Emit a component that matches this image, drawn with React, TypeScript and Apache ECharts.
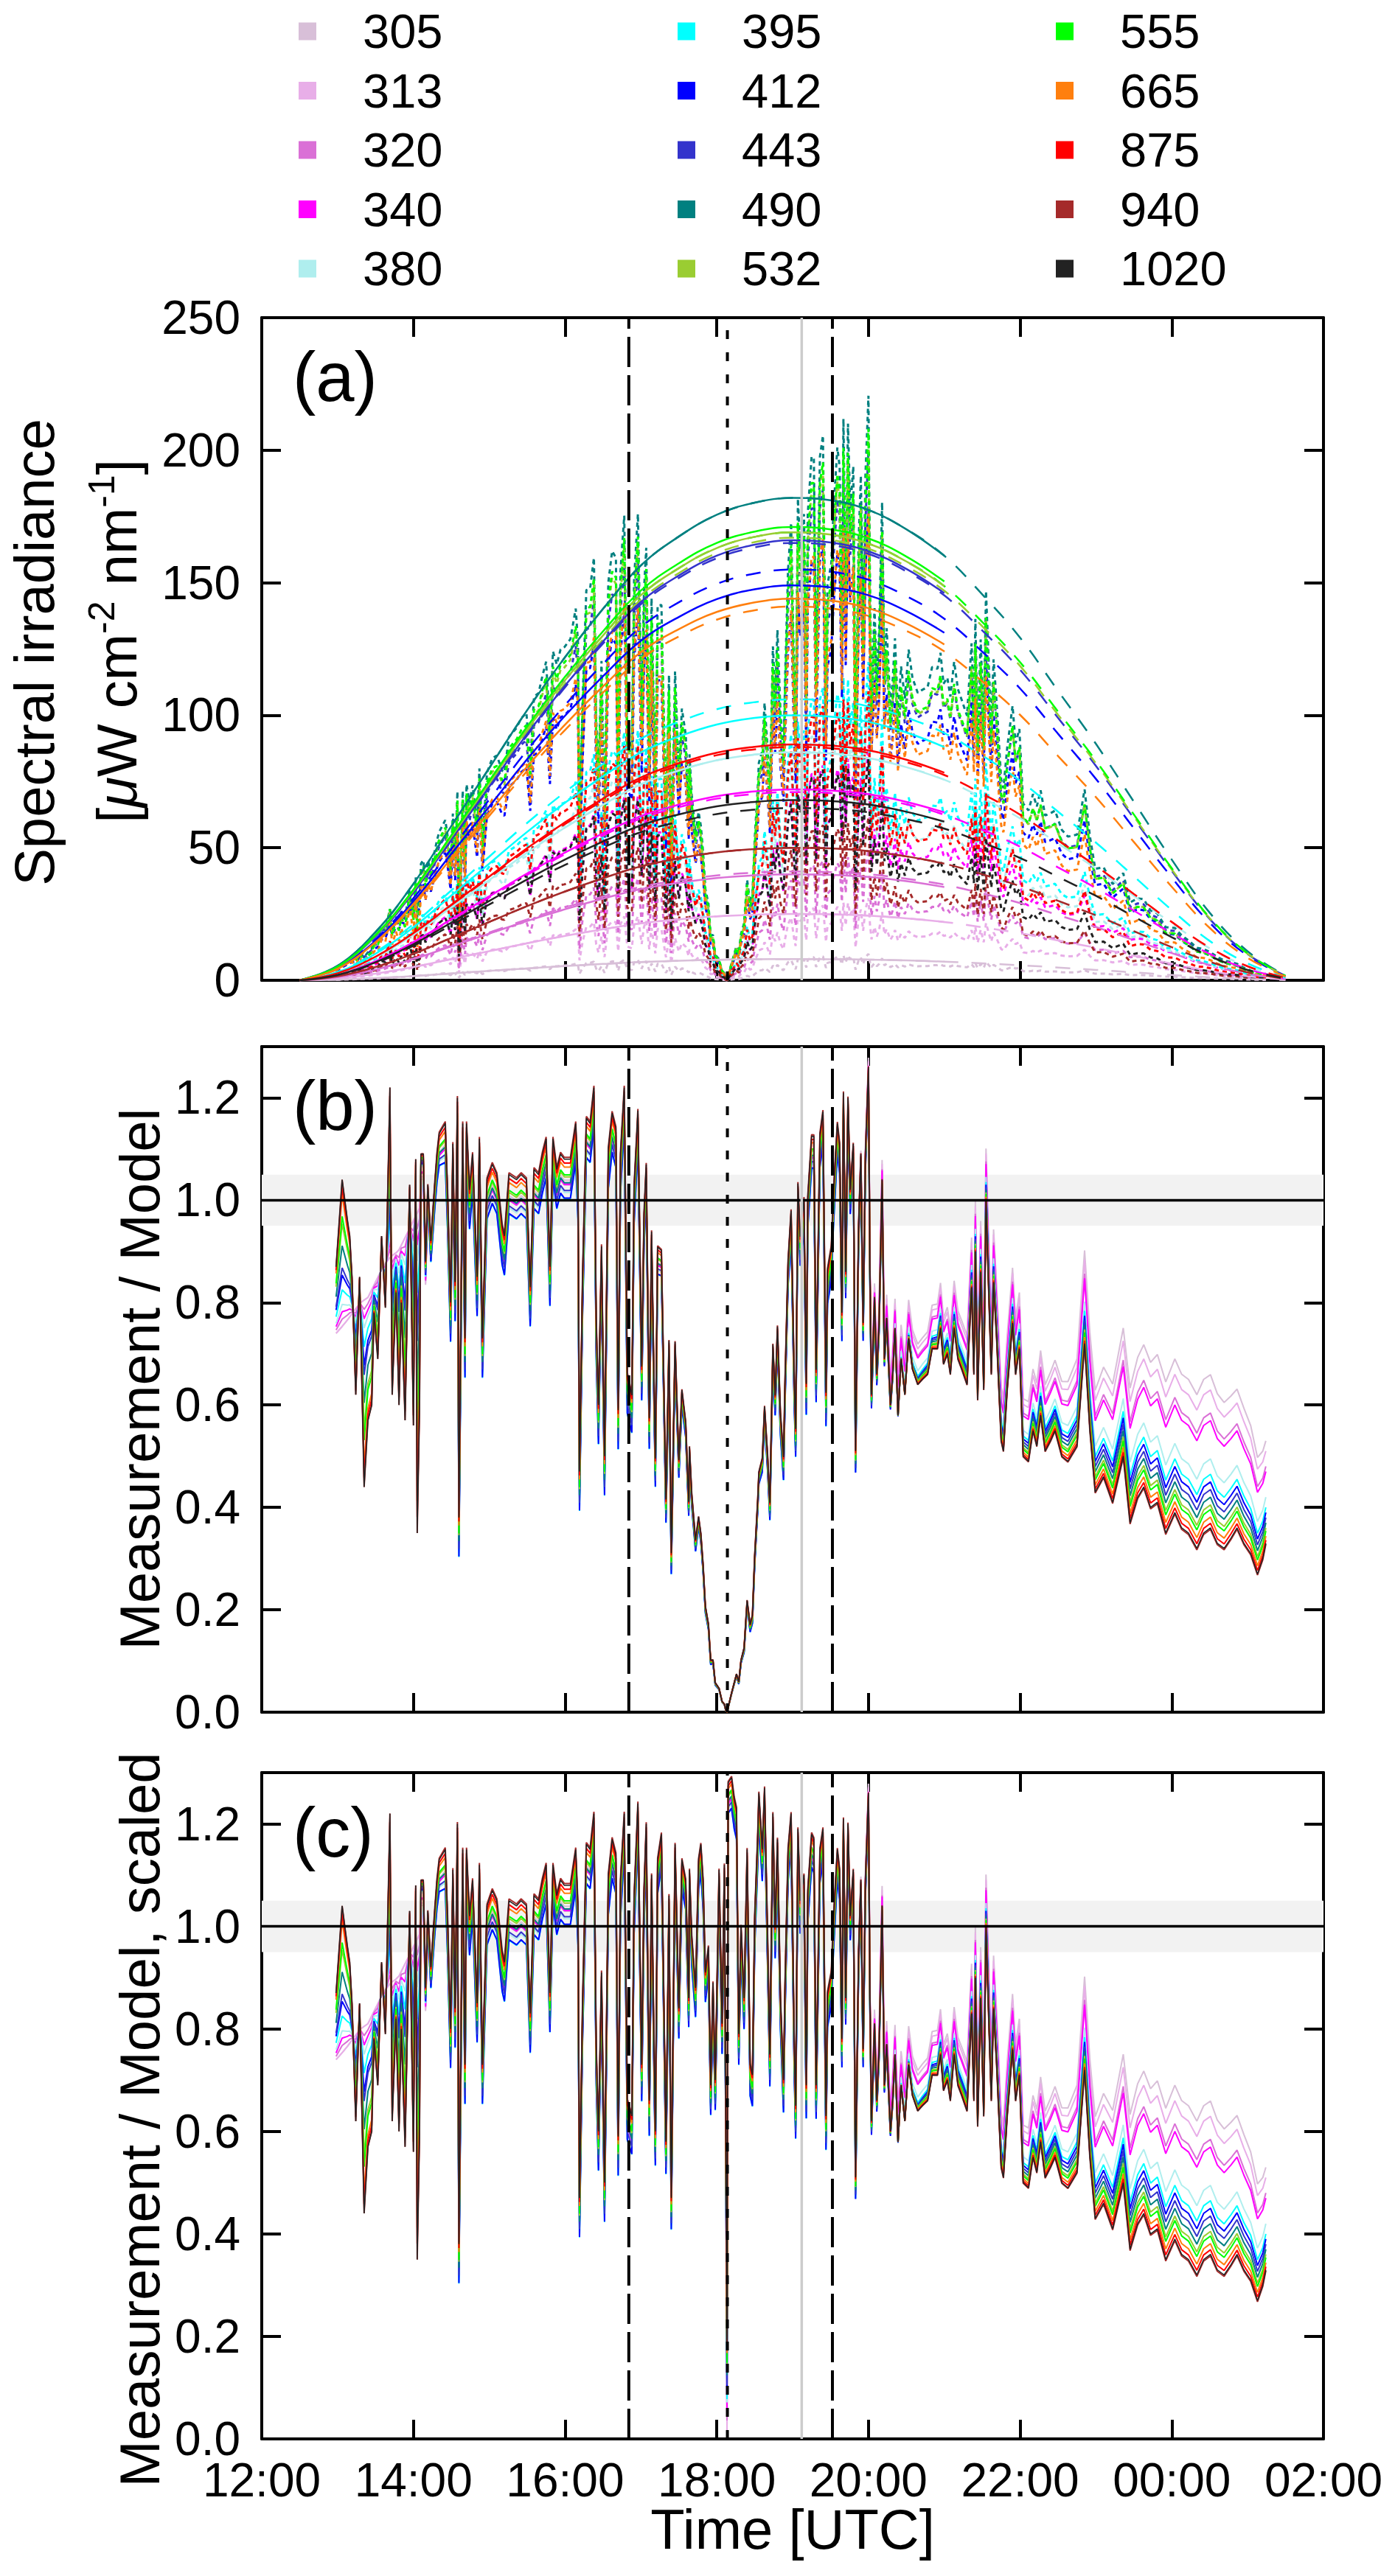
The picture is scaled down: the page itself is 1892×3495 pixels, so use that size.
import React, { useEffect, useRef } from "react";
import * as echarts from "echarts";

const FONT = "'Liberation Sans', Arial, Helvetica, sans-serif";

// ---------------- data ----------------
const WAVELENGTHS = ["305", "313", "320", "340", "380", "395", "412", "443", "490", "532", "555", "665", "875", "940", "1020"];
const COLORS = ["#D8BFD8", "#E8AEE8", "#DA70D6", "#FF00FF", "#AFEEEE", "#00FFFF", "#0000FF", "#3333CC", "#008080", "#9ACD32", "#00FF00", "#FF7F0E", "#FF0000", "#A52A2A", "#222222"];
// clear-sky model peak irradiance (solid) and second model (dashed)
const MODEL_PEAK = [8, 25, 40, 72, 86, 100, 149, 166, 182, 169, 171, 144, 89, 50, 68];
const MODEL2_PEAK = [8, 25, 41, 71, 86, 106, 155, 165, 182, 167, 169, 141, 88, 50, 65];
// position of each wavelength between the 1020 nm (0) and 305 nm (1) ratio curves
const EARLY_WEIGHT = [1.0, 1.0, 0.95, 0.9, 0.85, 0.75, 0.65, 0.6, 0.45, 0.3, 0.25, 0.1, 0.05, 0, 0];
const UV_WEIGHT = [1.0, 0.9, 0.75, 0.7, 0.45, 0.35, 0.3, 0.25, 0.2, 0.15, 0.12, 0.07, 0.03, -0.01, 0];
// share of the midday spectral offset (blue/cyan lowest)
const MID_WEIGHT = [0.3, 0.4, 0.5, 0.5, 0.8, 1.0, 1.0, 0.8, 0.6, 0.45, 0.4, 0.2, 0.1, -0.05, 0];

// normalised diurnal shape of the model curves
const SHAPE_T = [12.5, 13, 13.5, 14, 14.5, 15, 15.5, 16, 16.5, 17, 17.5, 18, 18.5, 19, 19.5, 20, 20.5, 21, 21.5, 22, 22.5, 23, 23.5, 24, 24.5, 25, 25.5];
const SHAPE_F = [0, 0.03, 0.1, 0.2, 0.32, 0.44, 0.56, 0.67, 0.77, 0.86, 0.92, 0.965, 0.99, 1.0, 0.995, 0.975, 0.935, 0.88, 0.8, 0.71, 0.6, 0.49, 0.37, 0.25, 0.14, 0.06, 0.01];
const SOLID_END = 21.0;

// measurement / model, scaled, at 1020 nm (hours after 00 UTC of the first day)
const RATIO_T = [
  12.98, 13.06, 13.13, 13.16, 13.19, 13.24, 13.29, 13.35, 13.40, 13.45, 13.48, 13.53, 13.58, 13.63, 13.69, 13.72, 13.77, 13.81, 13.84, 13.89,
  13.95, 14.00, 14.03, 14.05, 14.08, 14.10, 14.13, 14.16, 14.19, 14.23, 14.28, 14.31, 14.34, 14.42, 14.45, 14.49, 14.52, 14.55, 14.58, 14.60,
  14.65, 14.68, 14.70, 14.74, 14.78, 14.84, 14.87, 14.91, 14.97, 15.04, 15.10, 15.17, 15.20, 15.26, 15.36, 15.42, 15.49, 15.54, 15.59, 15.65,
  15.70, 15.75, 15.80, 15.84, 15.89, 15.94, 15.99, 16.04, 16.07, 16.14, 16.17, 16.19, 16.23, 16.28, 16.33, 16.38, 16.41, 16.44, 16.48, 16.52,
  16.57, 16.62, 16.67, 16.70, 16.73, 16.78, 16.82, 16.88, 16.91, 16.96, 17.01, 17.04, 17.07, 17.11, 17.14, 17.19, 17.22, 17.27, 17.33, 17.37,
  17.40, 17.45, 17.50, 17.54, 17.59, 17.63, 17.64, 17.67, 17.72, 17.76, 17.79, 17.82, 17.85, 17.89, 17.92, 17.95, 17.98, 18.03, 18.07, 18.10,
  18.12, 18.135, 18.15, 18.195, 18.23, 18.26, 18.29, 18.32, 18.36, 18.40, 18.44, 18.47, 18.50, 18.54, 18.555, 18.60, 18.63, 18.67, 18.70, 18.74,
  18.77, 18.80, 18.84, 18.88, 18.90, 18.94, 18.98, 19.02, 19.04, 19.07, 19.10, 19.15, 19.18, 19.20, 19.25, 19.28, 19.31, 19.36, 19.40, 19.44,
  19.46, 19.51, 19.54, 19.59, 19.62, 19.65, 19.67, 19.70, 19.73, 19.76, 19.80, 19.83, 19.87, 19.90, 19.93, 19.96, 20.00, 20.02, 20.04, 20.08,
  20.11, 20.14, 20.18, 20.21, 20.24, 20.29, 20.32, 20.35, 20.39, 20.43, 20.48, 20.53, 20.58, 20.65, 20.71, 20.78, 20.84, 20.91, 20.95, 20.99,
  21.04, 21.08, 21.13, 21.18, 21.23, 21.30, 21.36, 21.39, 21.41, 21.44, 21.48, 21.52, 21.55, 21.59, 21.62, 21.65, 21.69, 21.75, 21.78, 21.83,
  21.90, 21.94, 21.99, 22.04, 22.11, 22.17, 22.22, 22.27, 22.33, 22.40, 22.46, 22.55, 22.63, 22.75, 22.85, 22.92, 22.99, 23.10, 23.22, 23.36,
  23.45, 23.55, 23.63, 23.72, 23.81, 23.92, 24.04, 24.13, 24.22, 24.33, 24.42, 24.51, 24.60, 24.69, 24.78, 24.86, 24.95, 25.04, 25.13, 25.20,
  25.24,
];
const RATIO_1020 = [
  0.87, 1.04, 0.96, 0.93, 0.85, 0.62, 0.85, 0.44, 0.57, 0.60, 0.78, 0.69, 0.93, 0.79, 1.22, 0.62, 0.82, 0.60, 0.80, 0.57,
  1.03, 0.56, 1.08, 0.35, 0.59, 1.09, 1.09, 0.88, 1.03, 0.92, 1.03, 1.09, 1.13, 1.15, 1.02, 0.80, 1.11, 0.84, 1.20, 0.38,
  1.15, 0.73, 1.15, 1.02, 1.09, 0.85, 1.12, 0.73, 1.04, 1.07, 1.05, 0.95, 0.93, 1.05, 1.04, 1.05, 1.04, 0.83, 1.06, 1.05,
  1.09, 1.12, 0.87, 1.12, 1.06, 1.09, 1.08, 1.08, 1.08, 1.15, 1.04, 0.47, 0.85, 1.16, 1.15, 1.22, 0.77, 0.60, 0.91, 0.50,
  1.10, 1.17, 1.14, 0.59, 1.09, 1.22, 0.66, 0.63, 1.06, 1.24, 0.73, 1.07, 1.20, 0.66, 1.10, 0.60, 1.13, 1.18, 0.58, 1.06,
  0.47, 1.16, 0.84, 1.13, 1.09, 0.86, 1.11, 0.98, 0.88, 1.13, 1.16, 1.09, 0.91, 0.96, 0.69, 0.89, 0.70, 1.11, 0.81, 1.12,
  0.60, 0.19, 1.28, 1.29, 1.25, 1.23, 0.79, 1.00, 0.86, 1.15, 0.73, 0.71, 1.02, 1.18, 1.26, 1.15, 1.27, 0.98, 0.75, 1.22,
  1.00, 1.17, 0.86, 0.70, 0.89, 1.15, 1.22, 0.79, 0.65, 1.19, 1.05, 1.10, 0.69, 1.07, 1.18, 1.17, 0.69, 1.15, 1.19, 0.63,
  0.87, 0.91, 1.02, 1.15, 1.11, 0.78, 1.21, 0.86, 1.20, 1.02, 1.11, 0.51, 0.95, 1.09, 0.76, 1.09, 1.26, 0.86, 0.62, 0.81,
  0.66, 0.76, 1.04, 0.69, 0.77, 0.60, 0.66, 0.75, 0.58, 0.69, 0.62, 0.73, 0.67, 0.64, 0.65, 0.66, 0.71, 0.71, 0.75, 0.68,
  0.70, 0.66, 0.75, 0.69, 0.67, 0.64, 0.83, 0.66, 0.90, 0.61, 0.86, 0.63, 1.00, 0.80, 0.66, 0.84, 0.73, 0.53, 0.51, 0.63,
  0.76, 0.66, 0.71, 0.50, 0.49, 0.55, 0.52, 0.58, 0.51, 0.53, 0.55, 0.50, 0.49, 0.52, 0.72, 0.55, 0.43, 0.46, 0.41, 0.50,
  0.37, 0.42, 0.44, 0.40, 0.41, 0.35, 0.39, 0.36, 0.35, 0.32, 0.35, 0.36, 0.33, 0.32, 0.34, 0.36, 0.33, 0.31, 0.27, 0.30,
  0.33,
];
// 305 nm ratio before 14:06 (smooth)
const UV_EARLY_T = [12.98, 13.1, 13.2, 13.3, 13.4, 13.5, 13.6, 13.7, 13.8, 13.9, 14.0, 14.1];
const UV_EARLY_V = [0.74, 0.76, 0.78, 0.8, 0.81, 0.84, 0.87, 0.89, 0.9, 0.93, 0.96, 0.99];
// 305 nm minus 1020 nm ratio after 14:06
const UV_OFFSET_T = [14.1, 14.3, 16.8, 17.6, 18.12, 18.135, 18.15, 19.5, 20.0, 20.5, 21.5, 22.0, 22.5, 23.0, 23.5, 24.0, 24.5, 25.0, 25.24];
const UV_OFFSET_V = [-0.05, -0.02, -0.02, -0.02, -0.02, -0.17, -0.02, -0.02, 0.03, 0.08, 0.1, 0.11, 0.14, 0.2, 0.27, 0.3, 0.3, 0.26, 0.2];
// midday spectral offset (395 nm minus 1020 nm)
const MID_OFFSET_T = [14.1, 14.4, 16.8, 17.6, 19.5, 20.2, 21.0];
const MID_OFFSET_V = [0.0, -0.07, -0.07, -0.05, -0.06, -0.03, 0.0];
// un-obscured fraction of the solar disk (eclipse)
const ECLIPSE_T = [16.84, 17.0, 17.2, 17.4, 17.59, 17.75, 17.88, 18.01, 18.135, 18.3, 18.4, 18.5, 18.63, 18.76, 18.89, 19.02, 19.2, 19.35, 19.525];
const ECLIPSE_F = [1.0, 0.93, 0.82, 0.66, 0.52, 0.35, 0.19, 0.05, 0.0, 0.08, 0.19, 0.3, 0.47, 0.61, 0.72, 0.84, 0.94, 0.98, 1.0];

// event times: first contact, totality, solar noon, last contact
const EVENT_T = [16.84, 18.14, 19.12, 19.525];

const X_TICK_LABELS = ["12:00", "14:00", "16:00", "18:00", "20:00", "22:00", "00:00", "02:00"];
const PANEL_LABELS = ["(a)", "(b)", "(c)"];

// ---------------- helpers ----------------
function interp(ts: number[], vs: number[], t: number): number {
  if (t <= ts[0]) return vs[0];
  if (t >= ts[ts.length - 1]) return vs[vs.length - 1];
  for (let i = 1; i < ts.length; i++) {
    if (t <= ts[i]) {
      const f = (t - ts[i - 1]) / (ts[i] - ts[i - 1]);
      return vs[i - 1] + f * (vs[i] - vs[i - 1]);
    }
  }
  return vs[vs.length - 1];
}
function eclipseFrac(t: number): number {
  if (t <= ECLIPSE_T[0] || t >= ECLIPSE_T[ECLIPSE_T.length - 1]) return 1;
  return interp(ECLIPSE_T, ECLIPSE_F, t);
}
function midOffset(t: number): number {
  if (t <= MID_OFFSET_T[0] || t >= MID_OFFSET_T[MID_OFFSET_T.length - 1]) return 0;
  return interp(MID_OFFSET_T, MID_OFFSET_V, t);
}

const RATIO_C: number[][] = WAVELENGTHS.map((_, w) =>
  RATIO_T.map((t, i) => {
    const b = RATIO_1020[i];
    if (t < 14.1) {
      const uv = interp(UV_EARLY_T, UV_EARLY_V, t);
      return b + EARLY_WEIGHT[w] * (uv - b);
    }
    return b + UV_WEIGHT[w] * interp(UV_OFFSET_T, UV_OFFSET_V, t) + MID_WEIGHT[w] * midOffset(t);
  })
);
const RATIO_B: number[][] = RATIO_C.map((arr) => arr.map((v, i) => v * eclipseFrac(RATIO_T[i])));
const MEASURED: number[][] = RATIO_B.map((arr, w) =>
  arr.map((v, i) => MODEL_PEAK[w] * interp(SHAPE_T, SHAPE_F, RATIO_T[i]) * v)
);

// ---------------- option ----------------
function buildOption(): any {
  const GRID_TOP = [431, 1420, 2405];
  const GRID_H = [899, 903, 904];
  const grid = GRID_TOP.map((top, i) => ({ left: 355, top, width: 1440, height: GRID_H[i], containLabel: false }));

  const axLine = { show: true, onZero: false, lineStyle: { color: "#000", width: 4 } };
  const axTick = { show: true, inside: true, length: 26, lineStyle: { color: "#000", width: 4 } };

  const xAxis: any[] = [];
  const yAxis: any[] = [];
  for (let p = 0; p < 3; p++) {
    for (const pos of ["bottom", "top"]) {
      xAxis.push({
        type: "value", gridIndex: p, position: pos, min: 12, max: 26, interval: 2,
        axisLine: axLine, axisTick: axTick, splitLine: { show: false },
        axisLabel: {
          show: p === 2 && pos === "bottom", margin: 24, fontSize: 64, fontFamily: FONT, color: "#000",
          formatter: (v: number) => X_TICK_LABELS[Math.round((v - 12) / 2)] ?? "",
        },
      });
    }
    for (const pos of ["left", "right"]) {
      yAxis.push({
        type: "value", gridIndex: p, position: pos, min: 0, max: p === 0 ? 250 : 1.3, interval: p === 0 ? 50 : 0.2,
        axisLine: axLine, axisTick: axTick, splitLine: { show: false },
        axisLabel: {
          show: pos === "left", margin: 29, fontSize: 64, fontFamily: FONT, color: "#000",
          showMaxLabel: p === 0, showMinLabel: true,
          formatter: (v: number) => (p === 0 ? String(Math.round(v)) : v.toFixed(1)),
        },
      });
    }
  }

  const series: any[] = [];
  const base = { type: "line", symbol: "none", silent: true, animation: false, emphasis: { disabled: true }, clip: true };

  // band for ratio panels
  for (const p of [1, 2]) {
    series.push({
      ...base, name: "band" + p, xAxisIndex: 2 * p, yAxisIndex: 2 * p, z: 1,
      data: [[12, 1], [26, 1]], lineStyle: { opacity: 0 },
      markArea: { silent: true, label: { show: false }, itemStyle: { color: "#F2F2F2" }, data: [[{ yAxis: 0.95 }, { yAxis: 1.05 }]] },
    });
  }

  // panel (a): measurements (dotted look)
  WAVELENGTHS.forEach((wl, w) => {
    series.push({
      ...base, name: wl, color: COLORS[w], xAxisIndex: 0, yAxisIndex: 0, z: 2,
      data: RATIO_T.map((t, i) => [t, MEASURED[w][i]]),
      lineStyle: { color: COLORS[w], width: 3, type: [6, 5] },
    });
  });
  // panel (a): models
  WAVELENGTHS.forEach((wl, w) => {
    series.push({
      ...base, name: "model2-" + wl, color: COLORS[w], xAxisIndex: 0, yAxisIndex: 0, z: 2, smooth: 0.4,
      data: SHAPE_T.map((t, i) => [t, MODEL2_PEAK[w] * SHAPE_F[i]]),
      lineStyle: { color: COLORS[w], width: 2.5, type: [20, 18] },
    });
  });
  WAVELENGTHS.forEach((wl, w) => {
    series.push({
      ...base, name: "model-" + wl, color: COLORS[w], xAxisIndex: 0, yAxisIndex: 0, z: 2, smooth: 0.4,
      data: SHAPE_T.filter((t) => t <= SOLID_END).map((t, i) => [t, MODEL_PEAK[w] * SHAPE_F[i]]),
      lineStyle: { color: COLORS[w], width: 2.5 },
    });
  });
  // panels (b), (c)
  [RATIO_B, RATIO_C].forEach((R, k) => {
    const p = k + 1;
    WAVELENGTHS.forEach((wl, w) => {
      series.push({
        ...base, name: (p === 1 ? "b-" : "c-") + wl, color: COLORS[w], xAxisIndex: 2 * p, yAxisIndex: 2 * p, z: 2,
        data: RATIO_T.map((t, i) => [t, R[w][i]]),
        lineStyle: { color: COLORS[w], width: w === 14 ? 1.5 : 2 },
      });
    });
  });
  // horizontal 1.0 line
  for (const p of [1, 2]) {
    series.push({
      ...base, name: "one" + p, xAxisIndex: 2 * p, yAxisIndex: 2 * p, z: 4,
      data: [[12, 1], [26, 1]], lineStyle: { color: "#000", width: 3.5 },
    });
  }
  // event lines
  const EV_STYLE = [
    { color: "#000", width: 4, type: [41, 11] },
    { color: "#000", width: 4, type: [12, 18] },
    { color: "#CCCCCC", width: 3.5, type: "solid" },
    { color: "#000", width: 4, type: [41, 11] },
  ];
  for (let p = 0; p < 3; p++) {
    const ymax = p === 0 ? 250 : 1.3;
    EVENT_T.forEach((t, e) => {
      series.push({
        ...base, name: "ev" + p + "-" + e, xAxisIndex: 2 * p, yAxisIndex: 2 * p, z: 5,
        data: [[t, 0], [t, ymax]], lineStyle: EV_STYLE[e],
      });
    });
  }

  const legend = [0, 1, 2].map((c) => ({
    orient: "vertical", left: [405, 919, 1432][c], top: 10, padding: 0, itemGap: 15.5,
    itemWidth: 24, itemHeight: 24, icon: "rect", selectedMode: false,
    data: WAVELENGTHS.slice(c * 5, c * 5 + 5),
    itemStyle: { borderWidth: 0 },
    lineStyle: { width: 0 },
    textStyle: { fontSize: 65, fontFamily: FONT, color: "#000", lineHeight: 62, padding: [0, 0, 0, 58] },
  }));

  const T = (text: string, size: number, align = "center") => ({
    text, fontSize: size, fontFamily: FONT, fill: "#000",
    align, textAlign: align, verticalAlign: "middle", textVerticalAlign: "middle",
  });

  const graphic: any[] = [
    { type: "text", x: 46, y: 885, rotation: Math.PI / 2, silent: true, style: T("Spectral irradiance", 76) },
    {
      type: "text", x: 158, y: 870, rotation: Math.PI / 2, silent: true,
      style: {
        ...T("[{mu|μ}W cm{sup|-2} nm{sup|-1}]", 76), lineHeight: 90,
        rich: {
          mu: { fontSize: 76, fontFamily: FONT, fontStyle: "italic", fill: "#000", lineHeight: 90 },
          sup: { fontSize: 50, fontFamily: FONT, fill: "#000", verticalAlign: "top", lineHeight: 50 },
        },
      },
    },
    { type: "text", x: 189, y: 1871, rotation: Math.PI / 2, silent: true, style: T("Measurement / Model", 76) },
    { type: "text", x: 189, y: 2876, rotation: Math.PI / 2, silent: true, style: T("Measurement / Model, scaled", 76) },
    { type: "text", x: 1075, y: 3431, silent: true, style: T("Time [UTC]", 76) },
  ];
  [511, 1500, 2486].forEach((y, i) => {
    graphic.push({ type: "text", x: 397, y, silent: true, z: 10, style: T(PANEL_LABELS[i], 94, "left") });
  });

  return {
    animation: false,
    backgroundColor: "#FFFFFF",
    grid, xAxis, yAxis, series, legend, graphic,
  };
}

export default function App() {
  const ref = useRef<HTMLDivElement>(null);
  useEffect(() => {
    const chart = echarts.init(ref.current as HTMLDivElement, null, { renderer: "svg" });
    chart.setOption(buildOption());
    return () => chart.dispose();
  }, []);
  return (
    <div
      ref={ref}
      style={{ position: "absolute", left: 0, top: 0, width: 1892, height: 3495, background: "#fff" }}
    />
  );
}
